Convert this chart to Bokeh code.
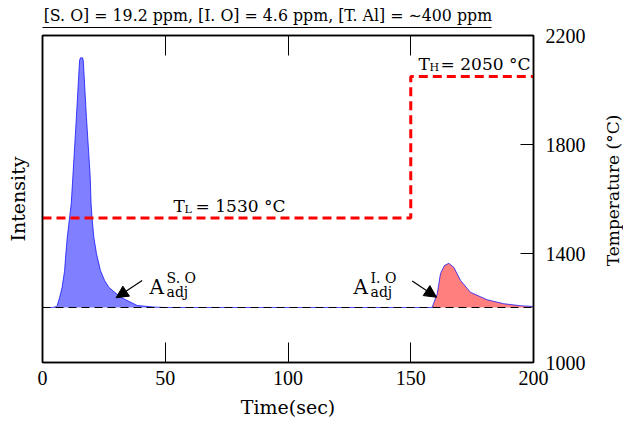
import math
from bokeh.plotting import figure
from bokeh.layouts import row
from bokeh.models import Range1d, LinearAxis, FixedTicker, Label, Arrow, NormalHead
from bokeh.core.properties import value
from bokeh.embed import file_html
from bokeh.resources import INLINE

# ---- data ----
time_so = [0, 4.0, 5.5, 6.0, 7.0, 8.0, 9.0, 9.5, 10.1, 11.0, 11.7, 12.4, 13.8, 15.1, 15.5, 16.3,
           16.6, 17.9, 19.4, 19.8, 20.2, 20.9, 22.0, 23.6, 25.3, 27.0, 31.8, 38.6, 45.0, 50.0]
int_so = [0, 0.0, 0.003, 0.008, 0.041, 0.081, 0.148, 0.215, 0.282, 0.358, 0.415, 0.53, 0.762, 0.99, 1.0, 1.0,
          0.99, 0.762, 0.53, 0.415, 0.358, 0.282, 0.215, 0.148, 0.108, 0.081, 0.041, 0.008, 0.002, 0.0]

time_io = [158.7, 160.8, 162.1, 163.7, 165.5, 167.5, 170.3, 174.3, 181.1, 187.9, 194.7, 200.0]
int_io = [0.0, 0.055, 0.135, 0.168, 0.177, 0.161, 0.108, 0.061, 0.031, 0.015, 0.007, 0.004]

temp_time = [0, 150, 150, 200]
temp_val = [1530, 1530, 2050, 2050]

x_ticks = [0, 50, 100, 150, 200]
temp_ticks = [1000, 1400, 1800, 2200]

title_text = "[S. O] = 19.2 ppm, [I. O] = 4.6 ppm, [T. Al] = \u223c400 ppm"
temp_label = "Temperature (\u00b0C)"

SERIF = "DejaVu Serif"
NUMF = "Liberation Serif"

# ---- main plot ----
p = figure(frame_width=491, frame_height=327,
           x_range=Range1d(0, 200), y_range=Range1d(-0.2203, 1.0893),
           x_axis_type=None, y_axis_type=None,
           output_backend="svg", toolbar_location=None,
           min_border_left=42, min_border_right=57, min_border_top=35, min_border_bottom=66,
           background_fill_color="white", border_fill_color="white")
p.outline_line_color = "black"
p.outline_line_width = 1.5
p.extra_y_ranges = {"temp": Range1d(1000, 2200)}

# signal
sig_t = time_so + time_io
sig_i = int_so + int_io
p.varea(x=time_so, y1=[0] * len(time_so), y2=int_so, fill_color="blue", fill_alpha=0.5)
p.varea(x=time_io, y1=[0] * len(time_io), y2=int_io, fill_color="red", fill_alpha=0.5)
p.line(x=sig_t, y=sig_i, line_color="blue", line_width=1, line_alpha=0.7)
p.line(x=[0, 200], y=[0, 0], line_color="black", line_width=1.2, line_dash="8 5")

# temperature
p.line(x=temp_time, y=temp_val, y_range_name="temp", line_color="red", line_width=3, line_dash="9 5")

# axes
bottom = LinearAxis(ticker=FixedTicker(ticks=x_ticks), axis_label="Time(sec)")
top = LinearAxis(ticker=FixedTicker(ticks=x_ticks),
                 major_label_overrides={t: "" for t in x_ticks}, axis_label=" ")
left = LinearAxis(ticker=FixedTicker(ticks=[]), axis_label="Intensity")
right = LinearAxis(y_range_name="temp", ticker=FixedTicker(ticks=temp_ticks))
# underlined title: label of a bounded axis whose rule is the underline;
# trailing no-break spaces shift the centred label to start over the frame's left edge
title_ax = LinearAxis(ticker=FixedTicker(ticks=[100]), major_label_overrides={100: ""},
                      bounds=(0, 182.9), axis_label=title_text + "\u00a0" * 8)

for ax, tin in ((bottom, 20), (top, 20), (left, 0), (right, 13), (title_ax, 0)):
    ax.major_tick_in = tin
    ax.major_tick_out = 0
    ax.minor_tick_in = 0
    ax.minor_tick_out = 0
    ax.axis_line_color = "black"
    ax.axis_line_width = 1.5
    ax.major_tick_line_color = "black"
    ax.major_tick_line_width = 1
    ax.axis_label_text_font = SERIF
    ax.axis_label_text_font_style = "normal"
    ax.axis_label_text_font_size = "19px"
    ax.axis_label_text_color = "black"
    ax.major_label_text_font = NUMF
    ax.major_label_text_color = "black"

bottom.major_label_text_font_size = "20px"
bottom.major_label_standoff = 8
bottom.axis_label_standoff = 8
right.major_label_text_font_size = "20px"
right.major_label_standoff = 12
left.axis_label_standoff = 14
top.major_label_text_font_size = "1px"
top.major_label_standoff = 0
top.axis_label_text_font_size = "4px"
top.axis_label_standoff = 0
title_ax.axis_line_width = 1
title_ax.major_label_text_font_size = "1px"
title_ax.major_label_standoff = 0
title_ax.axis_label_text_font_size = "15.8px"
title_ax.axis_label_standoff = 3

p.add_layout(bottom, "below")
p.add_layout(top, "above")
p.add_layout(title_ax, "above")
p.add_layout(left, "left")
p.add_layout(right, "right")

# annotations
def lab(x, y, text, size, xo=0, yo=0, rng="default", font=SERIF):
    p.add_layout(Label(x=x, y=y, text=text, x_offset=xo, y_offset=yo, y_range_name=rng,
                       text_font=font, text_font_size=size, text_color="black",
                       text_baseline="alphabetic", text_align="left"))

for tx, tv, sub, rest in ((53.4, 1530, "L", "= 1530 \u00b0C"), (153.2, 2050, "H", "= 2050 \u00b0C")):
    lab(tx, tv, "T", "17px", xo=0, yo=12.5, rng="temp")
    lab(tx, tv, sub, "11px", xo=11, yo=8.5, rng="temp")
    lab(tx, tv, rest, "17px", xo=22, yo=12.5, rng="temp")

for ax_, sup in ((43.6, "S. O"), (126.7, "I. O")):
    lab(ax_, 0, "A", "20px", xo=0, yo=20)
    lab(ax_, 0, sup, "14px", xo=17, yo=29)
    lab(ax_, 0, "adj", "14px", xo=17, yo=15)

p.add_layout(Arrow(x_start=40.6, y_start=0.108, x_end=30.0, y_end=0.039,
                   end=NormalHead(size=12, fill_color="black", line_color="black"),
                   line_color="black", line_width=1.2))
p.add_layout(Arrow(x_start=150.6, y_start=0.106, x_end=160.5, y_end=0.041,
                   end=NormalHead(size=12, fill_color="black", line_color="black"),
                   line_color="black", line_width=1.2))

# ---- right strip carrying the rotated temperature axis title (coordinates = pixels) ----
strip = figure(frame_width=33, frame_height=327, x_range=Range1d(0, 33), y_range=Range1d(327, 0),
               x_axis_type=None, y_axis_type=None, output_backend="svg", toolbar_location=None,
               min_border_left=0, min_border_right=0, min_border_top=35, min_border_bottom=66,
               background_fill_color="white", border_fill_color="white")
strip.outline_line_color = None
strip.text(x=[22], y=[155], text=[temp_label], angle=math.pi / 2, text_font=value(SERIF),
           text_font_size="17px", text_color="black", text_align="center", text_baseline="middle")

layout = row(p, strip, spacing=0)
open("out.html", "w").write(file_html(layout, INLINE))
